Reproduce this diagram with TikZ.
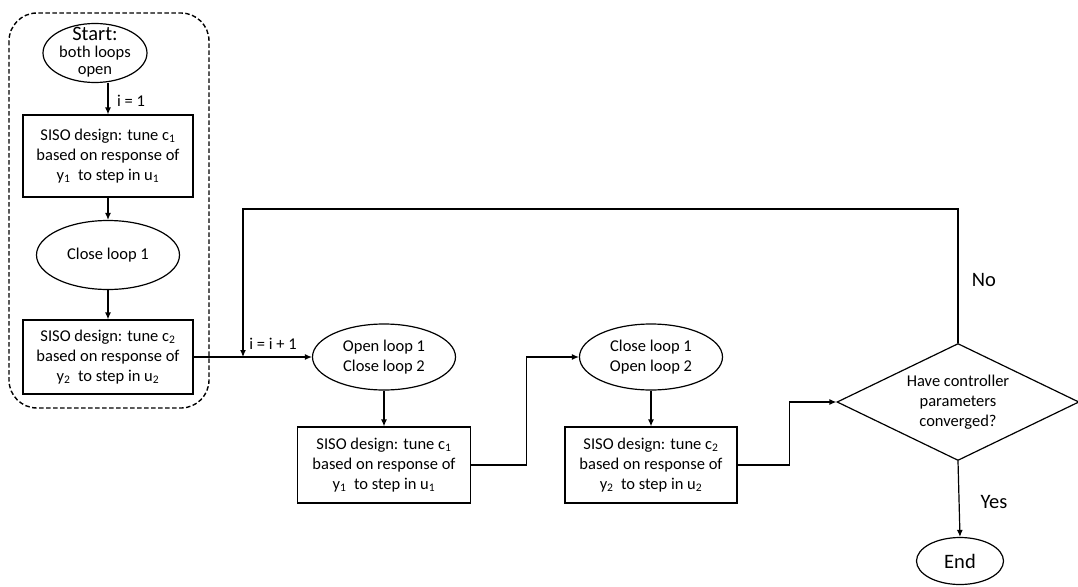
\documentclass[tikz,border=0pt]{standalone}
\usepackage{fontspec}
\setmainfont{Carlito}
\usetikzlibrary{shapes.geometric,arrows.meta}
\begin{document}
\begin{tikzpicture}[x=1pt,y=-1pt,
  every node/.style={font=\fontsize{16.5}{20}\selectfont, align=center},
  big/.style={font=\fontsize{20.5}{24}\selectfont},
  box/.style={draw, line width=1.2pt, rectangle, inner sep=0pt},
  ell/.style={draw, line width=1.2pt, ellipse, inner sep=0pt},
  dia/.style={draw, line width=1.2pt, diamond, aspect=2.07, inner sep=0pt, minimum width=242, minimum height=117},
  arr/.style={-{Latex[length=7pt,width=6pt]}, line width=1.2pt},
  conn/.style={line width=1.2pt}]
\useasboundingbox (0,0) rectangle (1078,586);

% dashed frame
\draw[line width=1.4pt, dash pattern=on 4.5pt off 2.5pt, rounded corners=28pt] (9,13) rectangle (209,408);

\node[ell, minimum width=104, minimum height=59] (start) at (95,53) {};
\node (starttxt) at (95,52) {{\fontsize{20.5}{24}\selectfont Start:}\\[-3pt]both loops\\[-3pt]open};

\node[box, minimum width=170, minimum height=82] (box1) at (108,156)
  {SISO design: tune c\textsubscript{1}\\based on response of\\y\textsubscript{1}~ to step in u\textsubscript{1}};
\node[ell, minimum width=143, minimum height=69] (close1) at (108,255) {Close loop 1};
\node[box, minimum width=170, minimum height=74] (box2) at (108,357)
  {SISO design: tune c\textsubscript{2}\\based on response of\\y\textsubscript{2}~ to step in u\textsubscript{2}};

\node[ell, minimum width=143, minimum height=66] (open1) at (384,357) {Open loop 1\\Close loop 2};
\node[box, minimum width=173, minimum height=76] (box3) at (384,465)
  {SISO design: tune c\textsubscript{1}\\based on response of\\y\textsubscript{1}~ to step in u\textsubscript{1}};
\node[ell, minimum width=143, minimum height=66] (close2) at (651,357) {Close loop 1\\Open loop 2};
\node[box, minimum width=172, minimum height=76] (box4) at (651,465)
  {SISO design: tune c\textsubscript{2}\\based on response of\\y\textsubscript{2}~ to step in u\textsubscript{2}};

\node[dia] (conv) at (958,402) {Have controller\\parameters\\converged?};
\node[ell, minimum width=87, minimum height=47, big] (end) at (960,561) {End};

\coordinate (tr) at (958,209);
\coordinate (tl) at (243,209);
\coordinate (jn) at (243,357);

% connectors
\draw[arr] (start.south -| box1.north) -- (box1.north);
\node (l1) at (131,101) {i = 1};
\draw[arr] (box1.south) -- (close1.north);
\draw[arr] (close1.south) -- (box2.north);
\draw[arr] (box2.east) -- (open1.west);
\draw[arr] (conv.north) -- (tr) -- (tl) -- (jn);
\node (l2) at (273,344) {i = i + 1};
\draw[arr] (open1.south) -- (box3.north);
\draw[arr] (box3.east) -- ++(55,0) |- (close2.west);
\draw[arr] (close2.south) -- (box4.north);
\draw[arr] (box4.east) -- ++(52,0) |- (conv.west);
\draw[arr] (conv.south) -- (end.north);
\node[big] (no) at (984,280) {No};
\node[big] (yes) at (994,502) {Yes};
\end{tikzpicture}
\end{document}
